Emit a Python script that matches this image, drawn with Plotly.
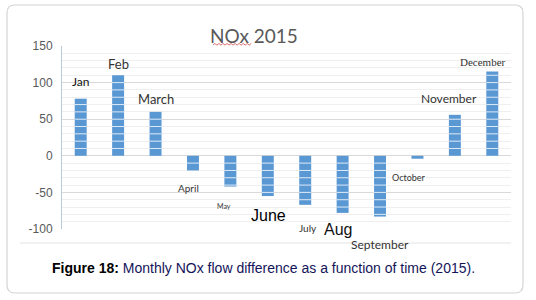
import plotly.graph_objects as go

months = ["Jan", "Feb", "March", "April", "May", "June", "July", "Aug",
          "September", "October", "November", "December"]
values = [78, 110, 60, -20, -42, -55, -67, -78, -83, -4, 56, 115]
y_ticks = [150, 100, 50, 0, -50, -100]
Y_MIN, Y_MAX = -100, 150

# label placement (category offset, data y, font size, font family, colour)
label_dx = [0, 0, 0, -0.13, -0.17, 0.03, 0.07, -0.13, -0.01, -0.23, -0.15, -0.25]
label_y = [101, 125.5, 78, -44, -68, -82, -98, -101, -121, -29, 78, 128]
label_size = [12, 13, 13, 10, 7, 16, 10, 16, 12, 9, 12, 11]
label_font = ["Lato", "Lato", "Lato", "Lato", "Lato", "Liberation Sans", "Lato",
              "Liberation Sans", "Lato", "Lato", "Lato", "Liberation Sans Narrow"]
label_color = ["#111111", "#333333", "#333333", "#333333", "#333333", "#000000",
               "#333333", "#111111", "#333333", "#333333", "#333333", "#333333"]

BAR_W = 0.32
BAR_COLOR = "#5a98d4"


def py(v):
    return (v - Y_MIN) / (Y_MAX - Y_MIN)


fig = go.Figure()
fig.add_trace(go.Bar(x=list(range(len(months))), y=values, width=BAR_W,
                     marker=dict(color=BAR_COLOR, line=dict(width=0)),
                     hoverinfo="skip", showlegend=False))

shapes = []
# outer card
L, R, T, B, rx, ry = -0.1225, 1.0267, 1.224, -0.3497, 0.0178, 0.0437
shapes.append(dict(type="path", xref="paper", yref="paper", layer="below",
                   path=(f"M {L},{T - ry} L {L},{B + ry} Q {L},{B} {L + rx},{B} "
                         f"L {R - rx},{B} Q {R},{B} {R},{B + ry} "
                         f"L {R},{T - ry} Q {R},{T} {R - rx},{T} "
                         f"L {L + rx},{T} Q {L},{T} {L},{T - ry} Z"),
                   line=dict(color="#d4d4d4", width=1.2), fillcolor="white"))
# white gridline segments visible across the bars (derived from data)
for i, v in enumerate(values):
    lo, hi = (0, v) if v > 0 else (v, 0)
    for g in range(Y_MIN, Y_MAX + 1, 10):
        if lo < g < hi:
            shapes.append(dict(type="line", xref="x", yref="y",
                               x0=i - BAR_W / 2, x1=i + BAR_W / 2, y0=g, y1=g,
                               line=dict(color="rgba(255,255,255,0.8)", width=1),
                               layer="above"))
# separator line below the chart picture
shapes.append(dict(type="line", xref="paper", yref="paper",
                   x0=-0.0935, x1=1.0, y0=-0.0765, y1=-0.0765,
                   line=dict(color="#e3e3e3", width=1)))
# red spell-check squiggle under "NOx"
xs, k = 0.336, 0
zz = f"M {xs},1.005"
while xs < 0.419:
    xs += 0.0045
    k += 1
    zz += f" L {xs:.4f},{1.005 + (0.0085 if k % 2 else 0):.4f}"
shapes.append(dict(type="path", xref="paper", yref="paper", path=zz,
                   line=dict(color="#d24a4a", width=0.8)))

annotations = []
for i, m in enumerate(months):
    annotations.append(dict(x=i + label_dx[i], y=py(label_y[i]), xref="x", yref="paper",
                            xanchor="center", yanchor="middle",
                            text=m, showarrow=False,
                            font=dict(family=label_font[i], size=label_size[i],
                                      color=label_color[i])))
annotations.append(dict(x=0.4276, y=1.06, xref="paper", yref="paper",
                        text="NOx 2015", showarrow=False, xanchor="center", yanchor="middle",
                        font=dict(family="Lato", size=19, color="#595959")))
annotations.append(dict(x=-0.0267, y=-0.213, xref="paper", yref="paper",
                        xanchor="left", yanchor="middle",
                        text="<b>Figure 18:</b> <span style='color:#14145a'>Monthly NOx flow difference as a function of time (2015).</span>",
                        showarrow=False,
                        font=dict(family="Liberation Sans", size=14, color="#000000")))

fig.update_layout(
    width=536, height=300,
    margin=dict(l=62, r=25, t=46, b=71, autoexpand=False),
    paper_bgcolor="white", plot_bgcolor="white",
    shapes=shapes, annotations=annotations,
    xaxis=dict(range=[-0.5, 11.5], showticklabels=False, showgrid=False,
               zeroline=False, showline=False, ticks=""),
    yaxis=dict(range=[Y_MIN, Y_MAX], tickvals=y_ticks, ticktext=[str(t) for t in y_ticks],
               showgrid=True, gridcolor="#d9d9d9", gridwidth=1,
               minor=dict(dtick=10, tick0=0, showgrid=True, gridcolor="#efefef", gridwidth=1),
               zeroline=False, showline=True, linecolor="#b9cad8", linewidth=1,
               ticks="", ticklabelstandoff=6,
               tickfont=dict(family="Liberation Sans", size=12, color="#595959")),
)

fig.write_html("out.html", config={"displayModeBar": False},
               post_script="document.body.style.margin='0';document.body.style.overflow='hidden';")
